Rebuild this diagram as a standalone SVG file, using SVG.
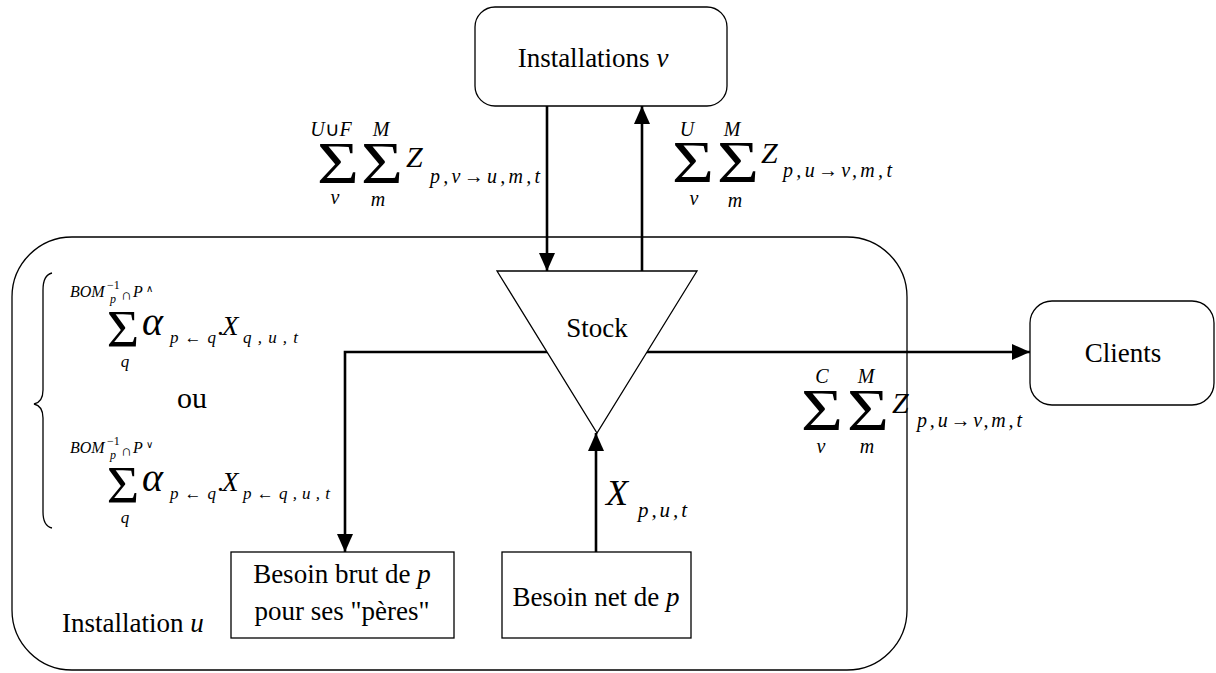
<svg xmlns="http://www.w3.org/2000/svg" width="1216" height="673" viewBox="0 0 1216 673">
<style>
.box{fill:#fff;stroke:#000;stroke-width:1.3}
.conn{fill:none;stroke:#000;stroke-width:2.6}
.t{font-family:"Liberation Serif","Times New Roman",serif;font-size:27px;fill:#000}
.m{font-family:"Liberation Serif","Times New Roman",serif;fill:#000}
.i{font-style:italic}
.sig{font-family:"Liberation Serif","Times New Roman",serif;fill:#000;text-anchor:middle}
</style>
<defs>
<marker id="ah" markerUnits="userSpaceOnUse" markerWidth="18" markerHeight="16" refX="18" refY="8" orient="auto">
<path d="M0,0 L18,8 L0,16 z" fill="#000"/>
</marker>
</defs>
<rect x="0" y="0" width="1216" height="673" fill="#fff"/>

<g id="installation-u">
<rect x="12" y="237" width="895" height="433" rx="60" ry="60" fill="none" stroke="#000" stroke-width="1.3"/>
<text class="t" x="62" y="632">Installation <tspan class="i">u</tspan></text>
</g>

<g id="connectors">
<path class="conn" d="M547 106 V271" marker-end="url(#ah)"/>
<path class="conn" d="M642 271 V106" marker-end="url(#ah)"/>
<path class="conn" d="M597 352 H1030" marker-end="url(#ah)"/>
<path class="conn" d="M597 352 H345 V552" marker-end="url(#ah)"/>
<path class="conn" d="M596 552 V433" marker-end="url(#ah)"/>
</g>

<g id="installations-v">
<rect class="box" x="475" y="7" width="252" height="99" rx="20" ry="20"/>
<text class="t" x="593" y="67" text-anchor="middle">Installations <tspan class="i">v</tspan></text>
</g>

<g id="stock">
<polygon class="box" points="497,271 697,271 597,433"/>
<text class="t" x="597" y="337" text-anchor="middle">Stock</text>
</g>

<g id="clients">
<rect class="box" x="1030" y="301" width="184" height="104" rx="22" ry="22"/>
<text class="t" x="1123" y="362" text-anchor="middle">Clients</text>
</g>

<g id="besoin-brut">
<rect class="box" x="231" y="552" width="223" height="86"/>
<text class="t" x="342" y="583" text-anchor="middle">Besoin brut de <tspan class="i">p</tspan></text>
<text class="t" x="342" y="620" text-anchor="middle">pour ses "pères"</text>
</g>

<g id="besoin-net">
<rect class="box" x="502" y="552" width="189" height="86"/>
<text class="t" x="596" y="606" text-anchor="middle">Besoin net de <tspan class="i">p</tspan></text>
</g>

<g id="labels">
<!-- flow from v to u -->
<g id="label-in">
<text class="m" x="331" y="136" font-size="20" text-anchor="middle"><tspan class="i">U</tspan>∪<tspan class="i">F</tspan></text>
<text class="m i" x="381" y="136" font-size="20" text-anchor="middle">M</text>
<text class="sig" font-size="60" transform="translate(338,183) scale(1.2,1)">Σ</text>
<text class="sig" font-size="60" transform="translate(382,183) scale(1.2,1)">Σ</text>
<text class="m i" x="335" y="204" font-size="20" text-anchor="middle">v</text>
<text class="m i" x="378" y="206" font-size="20" text-anchor="middle">m</text>
<text class="m i" x="406" y="167" font-size="30">Z</text>
<text class="m i" x="430" y="183" font-size="20" textLength="110" lengthAdjust="spacing">p,v<tspan font-style="normal">→</tspan>u,m,t</text>
</g>
<!-- flow from u to v -->
<g id="label-out">
<text class="m i" x="687" y="136" font-size="20" text-anchor="middle">U</text>
<text class="m i" x="732" y="136" font-size="20" text-anchor="middle">M</text>
<text class="sig" font-size="60" transform="translate(693,182) scale(1.2,1)">Σ</text>
<text class="sig" font-size="60" transform="translate(738,182) scale(1.2,1)">Σ</text>
<text class="m i" x="694" y="205" font-size="20" text-anchor="middle">v</text>
<text class="m i" x="735" y="207" font-size="20" text-anchor="middle">m</text>
<text class="m i" x="761" y="163" font-size="30">Z</text>
<text class="m i" x="783" y="177" font-size="20" textLength="109" lengthAdjust="spacing">p,u<tspan font-style="normal">→</tspan>v,m,t</text>
</g>
<!-- flow to clients -->
<g id="label-clients">
<text class="m i" x="822" y="383" font-size="20" text-anchor="middle">C</text>
<text class="m i" x="866" y="383" font-size="20" text-anchor="middle">M</text>
<text class="sig" font-size="60" transform="translate(822,430) scale(1.2,1)">Σ</text>
<text class="sig" font-size="60" transform="translate(868,430) scale(1.2,1)">Σ</text>
<text class="m i" x="821" y="453" font-size="20" text-anchor="middle">v</text>
<text class="m i" x="867" y="453" font-size="20" text-anchor="middle">m</text>
<text class="m i" x="892" y="413" font-size="30">Z</text>
<text class="m i" x="917" y="427" font-size="20" textLength="105" lengthAdjust="spacing">p,u<tspan font-style="normal">→</tspan>v,m,t</text>
</g>
<!-- net need -->
<g id="label-net">
<text class="m i" x="606" y="505" font-size="36">X</text>
<text class="m i" x="638" y="517" font-size="21" textLength="49" lengthAdjust="spacing">p,u,t</text>
</g>
<!-- gross need -->
<g id="label-gross">
<path d="M52 273 Q43 275 43 290 L43 390 Q43 402 34 404 Q43 406 43 418 L43 512 Q43 526 52 528" fill="none" stroke="#000" stroke-width="1.3"/>
<text class="m i" x="70" y="297" font-size="16">BOM</text>
<text class="m" x="107" y="289" font-size="12">−1</text>
<text class="m i" x="110" y="303" font-size="12">p</text>
<text class="m" x="121" y="300" font-size="15">∩</text>
<text class="m i" x="133" y="297" font-size="16">P</text>
<text class="m" x="146" y="292" font-size="10">∧</text>
<text class="sig" font-size="53" transform="translate(123,347) scale(1.05,1)">Σ</text>
<text class="m i" x="125" y="367" font-size="17" text-anchor="middle">q</text>
<text class="m i" x="142" y="335" font-size="40">α</text>
<text class="m i" x="170" y="343" font-size="17" textLength="46" lengthAdjust="spacing">p<tspan font-style="normal">←</tspan>q</text>
<text class="m" x="217" y="335" font-size="27">.</text>
<text class="m i" x="222" y="335" font-size="27">X</text>
<text class="m i" x="243" y="343" font-size="17" textLength="55" lengthAdjust="spacing">q,u,t</text>

<text class="t" x="192" y="408" font-size="30" text-anchor="middle" style="font-size:30px">ou</text>

<text class="m i" x="70" y="453" font-size="16">BOM</text>
<text class="m" x="107" y="445" font-size="12">−1</text>
<text class="m i" x="110" y="459" font-size="12">p</text>
<text class="m" x="121" y="456" font-size="15">∩</text>
<text class="m i" x="133" y="453" font-size="16">P</text>
<text class="m" x="146" y="448" font-size="10">∨</text>
<text class="sig" font-size="53" transform="translate(123,503) scale(1.05,1)">Σ</text>
<text class="m i" x="125" y="523" font-size="17" text-anchor="middle">q</text>
<text class="m i" x="142" y="491" font-size="40">α</text>
<text class="m i" x="170" y="499" font-size="17" textLength="46" lengthAdjust="spacing">p<tspan font-style="normal">←</tspan>q</text>
<text class="m" x="217" y="491" font-size="27">.</text>
<text class="m i" x="222" y="491" font-size="27">X</text>
<text class="m i" x="243" y="499" font-size="17" textLength="87" lengthAdjust="spacing">p<tspan font-style="normal">←</tspan>q,u,t</text>
</g>
</g>
</svg>
